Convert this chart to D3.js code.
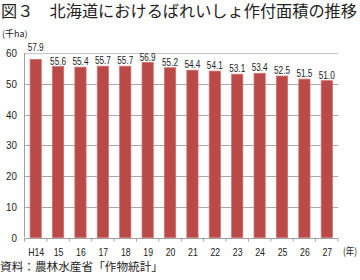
<!DOCTYPE html>
<html>
<head>
<meta charset="utf-8">
<script src="https://cdn.jsdelivr.net/npm/d3@7"></script>
<style>
  body { margin: 0; background: #fff; }
  svg { display: block; }
  text { font-family: "Liberation Sans", Arial, "Noto Sans CJK JP", sans-serif; fill: #222; }
  .jp { font-family: "Noto Sans CJK JP", sans-serif; }
</style>
</head>
<body>
<svg id="chart" width="360" height="280"></svg>
<script>
// データ（千ha）
var years = ["H14", "15", "16", "17", "18", "19", "20", "21", "22", "23", "24", "25", "26", "27"];
var areas = [57.9, 55.6, 55.4, 55.7, 55.7, 56.9, 55.2, 54.4, 54.1, 53.1, 53.4, 52.5, 51.5, 51.0];
var yTicks = [0, 10, 20, 30, 40, 50, 60];

var width = 360, height = 280;
var plot = {left: 24.5, right: 338, top: 53, bottom: 237.5};

var svg = d3.select("#chart");

// 幅の狭いフォントに見せる
function condense(sel, k) {
   sel.each(function() {
      var w = this.getComputedTextLength();
      d3.select(this)
         .attr("textLength", w * k)
         .attr("lengthAdjust", "spacingAndGlyphs");
   });
}

// タイトル
svg.append("text")
   .attr("class", "jp")
   .attr("x", 1)
   .attr("y", 17)
   .attr("font-size", 15.5)
   .attr("textLength", 356)
   .attr("lengthAdjust", "spacingAndGlyphs")
   .text("図３　北海道におけるばれいしょ作付面積の推移");

// 単位
svg.append("text")
   .attr("class", "jp")
   .attr("x", 2)
   .attr("y", 37)
   .attr("font-size", 9)
   .attr("fill", "#333")
   .text("(千ha)");

var x = d3.scaleBand()
   .domain(years)
   .range([plot.left, plot.right])
   .paddingInner(0.5)
   .paddingOuter(0.25);

var y = d3.scaleLinear()
   .domain([0, 60])
   .range([plot.bottom, plot.top]);

// 目盛線
svg.append("g")
   .selectAll("line")
   .data(yTicks.filter(function(d) { return d > 0; }))
   .join("line")
   .attr("x1", plot.left)
   .attr("x2", plot.right)
   .attr("y1", function(d) { return Math.round(y(d)) + 0.5; })
   .attr("y2", function(d) { return Math.round(y(d)) + 0.5; })
   .attr("stroke", function(d) { return d == 60 ? "#c4c4c4" : "#a8a8a8"; })
   .attr("stroke-width", 1);

// 縦軸ラベル
svg.append("g")
   .selectAll("text")
   .data(yTicks)
   .join("text")
   .attr("x", 17)
   .attr("y", function(d) { return y(d) + 4; })
   .attr("text-anchor", "end")
   .attr("font-size", 11.5)
   .text(function(d) { return d; })
   .call(condense, 0.85);

// 棒
svg.append("g")
   .selectAll("rect")
   .data(areas)
   .join("rect")
   .attr("x", function(d, i) { return x(years[i]); })
   .attr("width", x.bandwidth())
   .attr("y", function(d) { return y(d); })
   .attr("height", function(d) { return y(0) - y(d); })
   .attr("fill", "#b94a48")
   .attr("stroke", "#cf6f6d")
   .attr("stroke-width", 0.8);

// 数値ラベル
svg.append("g")
   .selectAll("text")
   .data(areas)
   .join("text")
   .attr("x", function(d, i) { return x(years[i]) + x.bandwidth() / 2; })
   .attr("y", function(d) { return y(d) - (d > 57 ? 8 : 2); })
   .attr("text-anchor", "middle")
   .attr("font-size", 10)
   .attr("fill", "#333")
   .text(function(d) { return d.toFixed(1); })
   .call(condense, 0.82);

// 縦軸線
svg.append("line")
   .attr("x1", plot.left).attr("x2", plot.left)
   .attr("y1", plot.top).attr("y2", plot.bottom)
   .attr("stroke", "#a0a0a0");

// 横軸
var xAxis = svg.append("g")
   .attr("transform", "translate(0," + (Math.round(plot.bottom) + 0.5) + ")");

xAxis.append("line")
   .attr("x1", plot.left).attr("x2", plot.right)
   .attr("stroke", "#a0a0a0");

var edges = d3.range(years.length + 1).map(function(i) { return plot.left + i * (plot.right - plot.left) / years.length; });
xAxis.selectAll(".tick")
   .data(edges)
   .join("line")
   .attr("class", "tick")
   .attr("x1", function(d) { return d; })
   .attr("x2", function(d) { return d; })
   .attr("y1", 0).attr("y2", 3)
   .attr("stroke", "#a0a0a0");

xAxis.selectAll(".lbl")
   .data(years)
   .join("text")
   .attr("class", "lbl")
   .attr("x", function(d) { return x(d) + x.bandwidth() / 2 + 0.5; })
   .attr("y", 17.5)
   .attr("text-anchor", "middle")
   .attr("font-size", 11.5)
   .text(function(d) { return d; })
   .call(condense, 0.76);

svg.append("text")
   .attr("class", "jp")
   .attr("x", 343)
   .attr("y", 255)
   .attr("font-size", 10)
   .attr("textLength", 14)
   .attr("lengthAdjust", "spacingAndGlyphs")
   .text("(年)");

// 出典
svg.append("text")
   .attr("class", "jp")
   .attr("x", 0)
   .attr("y", 271)
   .attr("font-size", 11)
   .attr("fill", "#333")
   .attr("textLength", 163)
   .attr("lengthAdjust", "spacingAndGlyphs")
   .text("資料：農林水産省「作物統計」");
</script>
</body>
</html>
